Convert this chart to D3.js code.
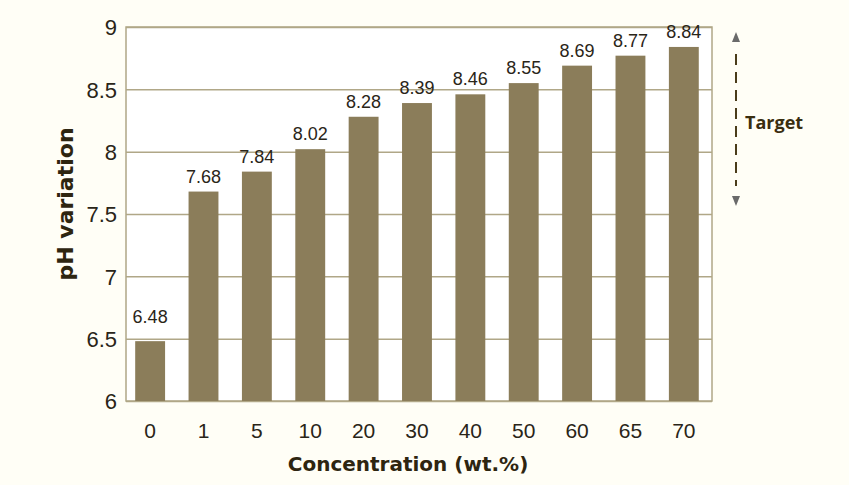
<!DOCTYPE html>
<html>
<head>
<meta charset="utf-8">
<script src="https://cdn.jsdelivr.net/npm/d3@7"></script>
<style>
  body { margin: 0; background: #fffef6; }
  svg { display: block; }
  .tick text { font-family: 'Liberation Sans', Arial, sans-serif; fill: #2a2518; }
  .value-label { font-family: 'Liberation Sans', Arial, sans-serif; font-size: 18px; fill: #2a2518; }
  .axis-title { font-family: 'DejaVu Sans', sans-serif; font-weight: bold; fill: #2e2510; }
</style>
</head>
<body>
<svg width="849" height="485"></svg>
<script>
'use strict';

const categories = ['0', '1', '5', '10', '20', '30', '40', '50', '60', '65', '70'];
const phValues = [6.48, 7.68, 7.84, 8.02, 8.28, 8.39, 8.46, 8.55, 8.69, 8.77, 8.84];
const yTicks = [6, 6.5, 7, 7.5, 8, 8.5, 9];

const svg = d3.select('svg');
const width = +svg.attr('width');
const height = +svg.attr('height');

const margin = { top: 27, right: 137, bottom: 84, left: 126 };
const innerWidth = width - margin.left - margin.right;
const innerHeight = height - margin.top - margin.bottom;

const barColor = '#8b7d5a';
const gridColor = '#b0a787';

const data = categories.map((c, i) => ({ conc: c, ph: phValues[i] }));

const xScale = d3.scaleBand()
  .domain(categories)
  .range([0, innerWidth])
  .paddingInner(0.44)
  .paddingOuter(0.21)
  .align(0.41);

const yScale = d3.scaleLinear()
  .domain([6, 9])
  .range([innerHeight, 0]);

const g = svg.append('g')
  .attr('transform', `translate(${margin.left},${margin.top})`);

// plot background
g.append('rect')
  .attr('width', innerWidth)
  .attr('height', innerHeight)
  .attr('fill', '#ffffff')
  .attr('stroke', gridColor)
  .attr('stroke-width', 1.5);

const yAxis = d3.axisLeft(yScale)
  .tickValues(yTicks)
  .tickFormat(d => d)
  .tickSize(-innerWidth)
  .tickPadding(9);

const yAxisG = g.append('g').call(yAxis);
yAxisG.select('.domain').remove();
yAxisG.selectAll('.tick line')
  .attr('stroke', gridColor)
  .attr('stroke-width', 1.5);
yAxisG.selectAll('.tick text')
  .style('font-size', '22px')
  .attr('dy', '0.36em');

const xAxis = d3.axisBottom(xScale)
  .tickSize(0)
  .tickPadding(22);

const xAxisG = g.append('g').call(xAxis)
  .attr('transform', `translate(0,${innerHeight})`);
xAxisG.select('.domain').remove();
xAxisG.selectAll('.tick text')
  .style('font-size', '21px');

g.selectAll('rect.bar').data(data)
  .enter().append('rect')
    .attr('class', 'bar')
    .attr('x', d => xScale(d.conc))
    .attr('y', d => yScale(d.ph))
    .attr('width', xScale.bandwidth())
    .attr('height', d => innerHeight - yScale(d.ph))
    .attr('fill', barColor);

g.selectAll('text.value-label').data(data)
  .enter().append('text')
    .attr('class', 'value-label')
    .attr('x', d => xScale(d.conc) + xScale.bandwidth() / 2)
    .attr('y', (d, i) => yScale(d.ph) - (i === 0 ? 18 : 9))
    .attr('text-anchor', 'middle')
    .text(d => d.ph.toFixed(2));

// axis titles
svg.append('text')
  .attr('class', 'axis-title')
  .attr('transform', `translate(73,204) rotate(-90)`)
  .attr('text-anchor', 'middle')
  .style('font-size', '22px')
  .text('pH variation');

svg.append('text')
  .attr('class', 'axis-title')
  .attr('x', 408)
  .attr('y', 471)
  .attr('text-anchor', 'middle')
  .style('font-size', '20px')
  .text('Concentration (wt.%)');

// target annotation
const ann = svg.append('g').attr('transform', 'translate(736,0)');
ann.append('line')
  .attr('x1', 0).attr('x2', 0)
  .attr('y1', 54).attr('y2', 186)
  .attr('stroke', '#4a3c1a')
  .attr('stroke-width', 2)
  .attr('stroke-dasharray', '11,7');
ann.append('path')
  .attr('d', 'M0,32 L-4,42 L4,42 Z')
  .attr('fill', '#6a6a6a');
ann.append('path')
  .attr('d', 'M0,206 L-4,196 L4,196 Z')
  .attr('fill', '#6a6a6a');
ann.append('text')
  .attr('x', 9)
  .attr('y', 129)
  .style('font-family', "'Open Sans', 'DejaVu Sans', sans-serif")
  .style('font-weight', 'bold')
  .style('font-size', '18px')
  .attr('fill', '#3a2e10')
  .text('Target');
</script>
</body>
</html>
